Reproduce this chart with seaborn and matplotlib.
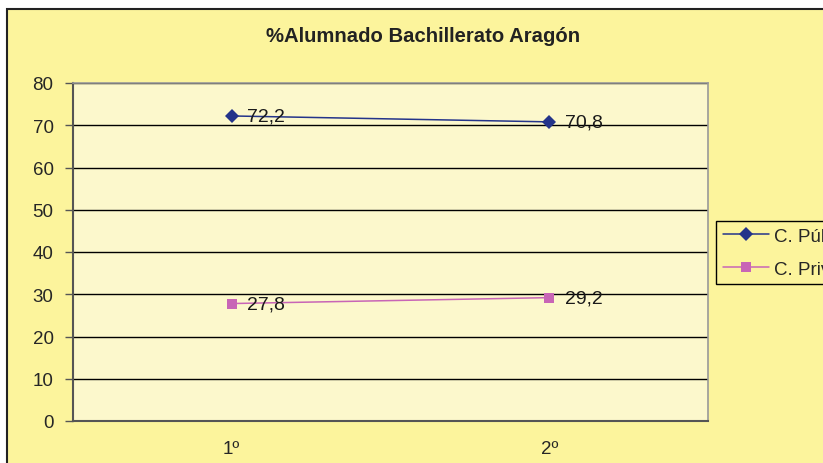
import matplotlib
matplotlib.use('Agg')
import matplotlib.pyplot as plt
import matplotlib.patches as patches
from matplotlib.ticker import FixedLocator
import seaborn as sns
import pandas as pd

# datos
cursos = ['1º', '2º']
publica = [72.2, 70.8]
privada = [27.8, 29.2]
series = ['C. Pública', 'C. Privada']

df = pd.DataFrame({
    'curso': cursos * 2,
    'valor': publica + privada,
    'centro': [series[0]] * 2 + [series[1]] * 2,
})

sns.set_style('white')
plt.rcParams['font.family'] = ['Liberation Sans', 'DejaVu Sans']

bg_chart = '#FCF49C'
bg_plot = '#FCF8CC'
colores = {'C. Pública': '#24348A', 'C. Privada': '#C865B6'}

fig = plt.figure(figsize=(8.23, 4.64), dpi=100, facecolor='white')
# marco del gráfico
marco = patches.Rectangle((7 / 823, -0.05), 1.1, 1 - 10 / 464 + 0.05,
                          transform=fig.transFigure, facecolor=bg_chart,
                          edgecolor='#222222', linewidth=1.5, zorder=-10)
fig.patches.append(marco)

ax = fig.add_axes([73 / 823, 1 - 422 / 464, (708 - 73) / 823, (422 - 84) / 464])
ax.set_facecolor(bg_plot)

sns.lineplot(data=df, x='curso', y='valor', hue='centro', style='centro',
             markers={'C. Pública': 'D', 'C. Privada': 's'}, dashes=False,
             palette=colores, markersize=7, linewidth=1.1, markeredgewidth=0,
             ax=ax, zorder=5)

for vals in (publica, privada):
    for i, v in enumerate(vals):
        ax.annotate(f'{v:.1f}'.replace('.', ','), (i, v), xytext=(11, 0),
                    textcoords='offset points', va='center', ha='left',
                    fontsize=14, color='#1a1a1a', zorder=6)

ax.set_xlim(-0.5, 1.5)
ax.set_ylim(0, 80)
ax.set_yticks(range(0, 81, 10))
ax.yaxis.grid(True, color='black', linewidth=1)
ax.set_axisbelow(True)
ax.xaxis.set_minor_locator(FixedLocator([-0.5, 0.5, 1.5]))
ax.tick_params(axis='x', which='major', length=0, pad=14, labelsize=13.5)
ax.tick_params(axis='x', which='minor', length=6, width=1, color='#555555', direction='out')
ax.tick_params(axis='y', length=6, width=1, color='#555555', direction='out', pad=8, labelsize=13.5)
ax.tick_params(left=True, bottom=True)
ax.set_xlabel('')
ax.set_ylabel('')

for s in ['left', 'bottom']:
    ax.spines[s].set_color('#555555')
    ax.spines[s].set_linewidth(1.5)
for s in ['top', 'right']:
    ax.spines[s].set_color('#999999')
    ax.spines[s].set_linewidth(1.2)

leg = ax.legend(loc='upper left', bbox_to_anchor=(716 / 823, 1 - 222 / 464),
                bbox_transform=fig.transFigure, fontsize=13.5, frameon=True,
                fancybox=False, edgecolor='black', facecolor=bg_chart,
                framealpha=1, borderpad=0.35, handlelength=2.5, labelspacing=0.85,
                handletextpad=0.25, borderaxespad=0, title=None)
leg.get_frame().set_linewidth(1)

fig.text(423 / 823, 1 - 37 / 464, '%Alumnado Bachillerato Aragón', ha='center', va='center',
         fontsize=14.6, fontweight='bold', color='#222222')

fig.savefig('out.png', dpi=100, facecolor='white')
